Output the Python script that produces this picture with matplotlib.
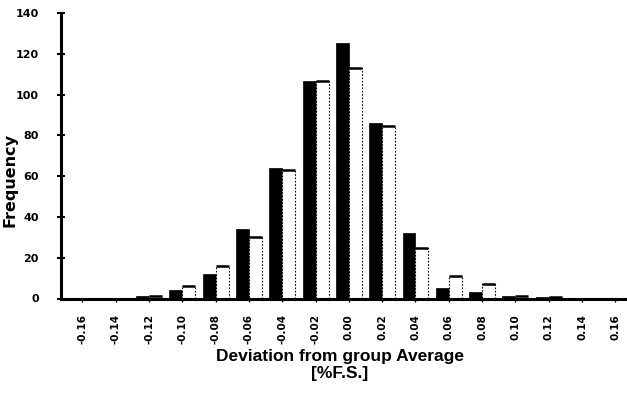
import matplotlib
matplotlib.use("Agg")
import matplotlib.pyplot as plt
import numpy as np

categories = ["-0.16", "-0.14", "-0.12", "-0.10", "-0.08", "-0.06", "-0.04", "-0.02",
              "0.00", "0.02", "0.04", "0.06", "0.08", "0.10", "0.12", "0.14", "0.16"]
series_black = [0, 0, 1, 4.2, 12, 34, 64, 106.7, 125.5, 86.2, 32, 5, 3.2, 1.2, 0.5, 0, 0]
series_white = [0, 0, 1, 6.1, 16.1, 30.3, 63, 106.7, 112.9, 84.6, 24.9, 11, 7.1, 1.2, 0.5, 0, 0]
y_ticks = [0, 20, 40, 60, 80, 100, 120, 140]
y_tick_labels = ["0", "20", "40", "60", "80", "100", "120", "140"]

fig = plt.figure(figsize=(6.27, 3.93), dpi=100)
ax = fig.add_axes([61 / 627, 1 - 298.5 / 393, 1 - 61 / 627, (298.5 - 13) / 393])

x = np.arange(len(categories))
w = 0.39
ax.bar(x - w / 2, series_black, width=w, color="black", edgecolor="black", linewidth=0.5)
ax.bar(x + w / 2, series_white, width=w, color="white", edgecolor="black",
       linewidth=0.8, linestyle=(0, (1.5, 1.5)))
ax.hlines(series_white, x, x + w, colors="black", linewidth=1.8)

ax.set_xlim(-0.643, 16.35)
ax.set_ylim(0, 140)
ax.set_yticks(y_ticks)
ax.set_yticklabels(y_tick_labels, fontfamily="DejaVu Sans", fontweight="bold", fontsize=8)
ax.set_xticks(x)
ax.set_xticklabels(categories, rotation=90, fontfamily="DejaVu Sans",
                   fontweight="bold", fontsize=7.5)

for s in ["top", "right"]:
    ax.spines[s].set_visible(False)
for s in ["left", "bottom"]:
    ax.spines[s].set_linewidth(2.2)

ax.tick_params(axis="y", direction="inout", length=6, width=1.5, pad=13)
ax.tick_params(axis="x", direction="out", length=2, width=1, pad=9)

ax.set_ylabel("Frequency", fontfamily="DejaVu Sans", fontweight="bold", fontsize=11.5)
ax.yaxis.set_label_coords((18 - 61) / (627 - 61), (298.5 - 180) / (298.5 - 13))
ax.set_xlabel("Deviation from group Average\n[%F.S.]", fontfamily="Liberation Sans",
              fontweight="bold", fontsize=12.5, linespacing=1.15, labelpad=4)
ax.xaxis.label.set_position(((340 - 61) / (627 - 61), 0))

fig.savefig("out.png", dpi=100)
